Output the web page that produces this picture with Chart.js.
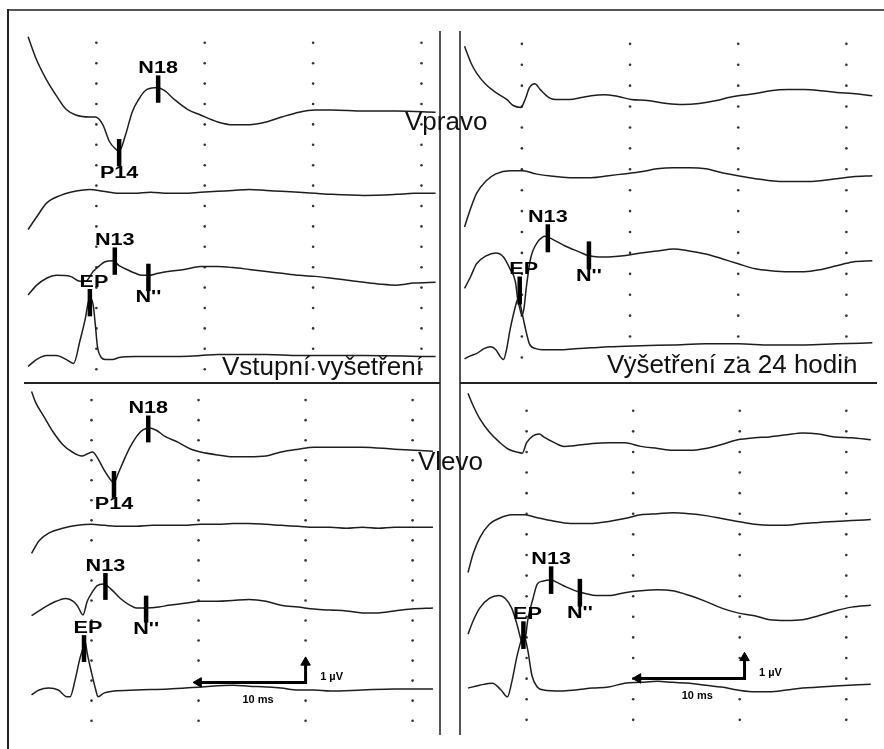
<!DOCTYPE html>
<html>
<head>
<meta charset="utf-8">
<script src="https://cdn.jsdelivr.net/npm/chart.js@4.4.0/dist/chart.umd.min.js"></script>
<style>
  body { margin: 0; background: #fff; }
  #page { position: relative; width: 884px; height: 749px; overflow: hidden; font-family: "Liberation Sans", Arial, sans-serif; }
  .panel { position: absolute; }
  .rule { position: absolute; background: #333; }
  .title { position: absolute; font-size: 26px; line-height: 26px; color: #111; white-space: nowrap; }
</style>
</head>
<body>
<div id="page">
  <div class="panel" style="left:24px;top:30px"><canvas id="tl" width="416" height="353"></canvas></div>
  <div class="panel" style="left:24px;top:383px"><canvas id="bl" width="416" height="352"></canvas></div>
  <div class="panel" style="left:460px;top:30px"><canvas id="tr" width="417" height="353"></canvas></div>
  <div class="panel" style="left:460px;top:383px"><canvas id="br" width="417" height="352"></canvas></div>

  <div class="rule" style="left:8px;top:9px;width:876px;height:2px;background:#555"></div>
  <div class="rule" style="left:7px;top:9px;width:2px;height:740px;background:#222"></div>
  <div class="rule" style="left:439px;top:31px;width:2px;height:704px;background:#555"></div>
  <div class="rule" style="left:459px;top:31px;width:2px;height:704px;background:#555"></div>
  <div class="rule" style="left:24px;top:382px;width:416px;height:2px;background:#222"></div>
  <div class="rule" style="left:460px;top:382px;width:417px;height:2px;background:#222"></div>

  <div class="title" style="left:405px;top:108px">Vpravo</div>
  <div class="title" style="left:418px;top:448px">Vlevo</div>
  <div class="title" style="left:222px;top:353px">Vstupní vyšetření</div>
  <div class="title" style="left:607px;top:351px">Vyšetření za 24 hodin</div>
</div>
<script>
// time in ms, amplitude in µV (relative to each trace baseline)
// --- Vstupni vysetreni, vpravo (top left)
const tlTime1 = [3.7,4.5,5.4,6.3,7.2,8.1,9.4,9.9,10.6,11.2,11.8,12.1,12.7,13.3,13.9,14.5,15.4,15.7,16.3,17.2,18.4,19.6,21.2,22.6,24.1,25.7,27.1,28.7,30.2,31.7,34.7,37.7,41.3];
const tlAmp1 = [3.69,2.54,1.58,0.81,0.14,-0.14,-0.24,-0.24,-0.62,-1.44,-1.82,-1.92,-1.10,0,0.62,1.05,1.20,1.20,1.05,0.62,0.14,-0.14,-0.48,-0.62,-0.62,-0.48,-0.24,0,0.10,0.10,0.05,0.05,0];
const tlTime2 = [3.7,4.5,5.4,6.7,7.6,9.4,10.6,12.1,13.5,15.0,16.6,18.1,19.6,21.2,22.6,24.1,25.7,27.1,28.7,30.2,31.7,34.7,37.7,39.3,41.3];
const tlAmp2 = [-1.77,-1.15,-0.48,-0.10,0.05,0.19,0.10,0,0,0.05,0,0,0.05,0.10,0.14,0.19,0.14,0.10,0.05,0,-0.05,-0.10,-0.05,0,0];
const tlTime3 = [3.7,4.5,5.4,6.3,7.6,8.5,9.0,9.7,10.3,10.8,11.5,12.1,13.0,13.6,14.2,14.8,15.7,16.6,18.1,19.6,21.2,22.6,24.1,25.7,27.1,28.7,30.2,31.7,33.2,34.7,36.2,37.7,39.3,41.3];
const tlAmp3 = [-0.96,-0.48,-0.14,0,-0.05,-0.29,-0.29,0.19,0.48,0.67,0.72,0.48,0.24,0.10,0,0,0.10,0.19,0.29,0.43,0.43,0.38,0.29,0.19,0.10,0,-0.05,-0.14,-0.24,-0.34,-0.43,-0.48,-0.38,-0.34];
const tlTime4 = [3.7,4.5,5.4,6.3,7.2,7.9,8.5,9.0,9.2,9.4,9.7,9.9,10.1,10.4,10.8,11.5,12.1,13.6,16.6,19.6,21.2,25.7,28.7,34.7,41.3];
const tlAmp4 = [-0.48,-0.14,0.05,0.05,-0.14,-0.34,0.81,1.92,2.54,2.87,2.54,1.58,0.48,0,-0.14,-0.14,-0.05,0,0,0.05,0.10,0.10,0.05,0.05,0];

// --- Vstupni vysetreni, vlevo (bottom left)
const blTime1 = [4.4,4.8,5.5,6.4,7.3,8.2,9.1,9.6,10.1,10.5,11.2,11.8,12.1,12.5,13.0,13.6,14.2,14.8,15.4,16.0,16.9,18.1,19.3,20.2,21.8,23.2,24.7,26.3,27.7,29.3,30.8,32.3,35.3,38.3,41.9];
const blAmp1 = [2.88,2.31,1.68,0.87,0.24,-0.14,-0.34,-0.24,-0.14,-0.38,-1.06,-1.54,-1.68,-1.20,-0.58,0.10,0.63,0.96,1.06,0.96,0.63,0.34,0,-0.14,-0.29,-0.38,-0.38,-0.34,-0.14,0,0.10,0.10,0.10,0,-0.10];
const blTime2 = [4.4,5.1,6.0,7.3,8.7,10.0,11.2,12.7,14.2,15.7,17.2,18.7,20.2,21.8,23.2,24.7,26.3,27.7,29.3,30.8,32.3,33.8,35.3,36.8,38.3,41.9];
const blAmp2 = [-1.35,-0.72,-0.34,-0.10,0.05,0.10,0.05,0,0,0.05,0.05,0.05,0.10,0.10,0.14,0.14,0.10,0.05,0,-0.05,-0.05,-0.10,-0.05,-0.10,-0.05,-0.05];
const blTime3 = [4.4,5.5,6.7,7.6,8.3,8.7,9.2,9.6,10.1,10.5,11.1,11.8,12.7,13.6,14.2,15.1,16.3,17.2,18.7,20.2,21.8,23.2,24.7,26.3,27.7,29.3,30.8,32.3,33.8,35.3,36.8,38.3,39.9,41.9];
const blAmp3 = [-0.38,0,0.34,0.48,0.34,0.10,-0.34,0.34,0.82,1.11,1.20,0.96,0.48,0.14,0,0,0.05,0.14,0.24,0.34,0.34,0.38,0.43,0.34,0.14,0.05,-0.05,-0.10,-0.14,-0.24,-0.24,-0.14,-0.05,0];
const blTime4 = [4.4,5.1,6.0,6.9,7.7,8.0,8.5,8.9,9.2,9.4,9.6,10.0,10.4,10.6,11.2,12.1,14.2,17.2,20.2,23.2,24.7,26.3,27.7,29.3,30.8,32.3,35.3,38.3,41.9];
const blAmp4 = [-0.29,-0.05,0.05,-0.05,-0.38,-0.38,0.53,1.49,2.02,2.36,1.78,0.82,-0.05,-0.38,-0.19,-0.10,-0.05,0,0.10,0.19,0.14,0.10,0.05,-0.05,-0.05,-0.10,-0.05,0,0];

// --- Vysetreni za 24 hodin, vpravo (top right)
const trTime1 = [4.7,5.3,5.8,6.7,7.6,8.6,9.2,9.9,10.3,10.7,11.2,11.7,12.5,13.1,14.4,15.5,16.4,17.6,18.9,20.1,21.6,23.4,24.9,26.4,28.0,29.1,30.0,31.6,33.0,34.6,36.1,37.6,39.1,40.6,42.4];
const trAmp1 = [2.45,1.65,1.18,0.61,0.24,-0.09,-0.38,-0.47,-0.09,0.47,0.66,0.38,0,-0.09,-0.09,0,0.09,0.14,0.05,-0.09,-0.14,-0.28,-0.33,-0.28,-0.14,0,0.09,0.19,0.33,0.38,0.38,0.33,0.24,0.19,0.09];
const trTime2 = [4.7,5.3,5.8,6.7,7.6,8.9,10.1,11.3,12.5,14.4,16.4,18.0,19.4,21.0,22.5,24.0,25.5,27.0,28.5,30.0,31.6,33.0,34.6,36.1,37.6,39.1,40.6,42.4];
const trAmp2 = [-2.45,-1.51,-0.85,-0.24,0.09,0.24,0.24,0.09,0,-0.09,-0.09,0,0.09,0.19,0.33,0.38,0.38,0.33,0.14,0,-0.14,-0.24,-0.28,-0.28,-0.24,-0.14,-0.05,0];
const trTime3 = [4.7,5.3,5.8,6.7,7.6,8.3,8.9,9.4,9.6,9.8,10.0,10.2,10.4,10.8,11.5,11.9,12.1,12.8,14.0,15.3,16.2,17.1,18.0,19.4,21.0,22.5,24.0,25.5,27.0,28.5,30.0,31.6,33.0,34.6,36.1,37.6,39.1,40.6,42.4];
const trAmp3 = [-1.51,-0.90,-0.33,0.05,0.19,0,-0.57,-1.18,-1.98,-2.45,-2.78,-2.45,-1.51,-0.09,0.75,0.94,0.99,0.85,0.52,0.24,0.05,0,0,0.05,0.19,0.28,0.38,0.28,0.14,-0.09,-0.33,-0.57,-0.66,-0.71,-0.71,-0.61,-0.42,-0.24,-0.19];
const trTime4 = [4.7,5.3,5.8,6.5,7.1,7.6,8.0,8.3,8.6,8.9,9.2,9.5,9.6,9.8,10.1,10.4,10.7,11.3,11.9,13.5,14.9,16.4,18.0,21.0,24.0,27.0,30.0,33.0,36.1,39.1,42.4];
const trAmp4 = [-0.57,-0.42,-0.33,-0.09,0,-0.14,-0.47,-0.61,-0.09,0.80,1.51,2.12,2.26,2.12,1.42,0.71,0.14,-0.09,-0.14,-0.14,-0.09,-0.05,0,0.05,0.09,0.14,0.14,0.09,0.09,0.14,0.19];

// --- Vysetreni za 24 hodin, vlevo (bottom right)
const brTime1 = [4.5,5.0,5.6,6.5,7.4,8.3,9.1,9.6,10.0,10.6,11.2,11.6,12.6,13.5,14.6,16.2,17.7,19.2,20.7,22.3,23.7,25.3,26.8,28.3,29.8,31.4,32.8,34.4,35.9,37.4,38.9,40.5,42.3];
const brAmp1 = [2.48,1.87,1.26,0.61,0.14,-0.23,-0.37,-0.42,0.09,0.42,0.51,0.37,0.09,-0.09,-0.05,0.05,0.09,0.09,-0.09,-0.19,-0.28,-0.28,-0.19,0,0.23,0.33,0.37,0.47,0.56,0.51,0.37,0.33,0.23];
const brTime2 = [4.5,5.0,5.6,6.5,7.4,8.6,9.8,11.0,12.3,14.1,16.2,17.7,19.2,20.7,22.3,23.7,25.3,26.8,28.3,29.8,31.4,32.8,34.4,35.9,37.4,38.9,40.5,42.3];
const brAmp2 = [-2.57,-1.64,-0.89,-0.23,0.05,0.23,0.23,0.09,-0.05,-0.19,-0.19,-0.09,0.05,0.23,0.28,0.33,0.28,0.19,0.05,-0.09,-0.23,-0.28,-0.28,-0.19,-0.14,-0.09,-0.05,0];
const brTime3 = [4.5,5.0,5.6,6.5,7.4,8.0,8.6,9.1,9.4,9.6,9.9,10.1,10.6,11.0,11.5,12.3,12.8,13.7,14.6,15.6,16.5,17.7,19.2,20.7,22.3,23.7,25.3,26.8,28.3,29.8,31.4,32.8,34.4,35.9,37.4,38.9,40.5,42.3];
const brAmp3 = [-1.87,-1.21,-0.61,-0.14,0,-0.14,-0.61,-1.40,-2.01,-2.34,-2.01,-1.21,-0.14,0.56,0.70,0.75,0.65,0.42,0.23,0.09,0,0,0.14,0.23,0.28,0.23,0,-0.28,-0.61,-0.84,-0.98,-1.17,-1.21,-1.17,-0.98,-0.75,-0.56,-0.47];
const brTime4 = [4.5,5.6,6.8,7.6,8.2,8.6,9.1,9.5,9.7,10.1,10.5,11.0,11.6,13.2,14.6,16.2,17.7,19.2,20.7,22.3,23.7,25.3,26.8,28.3,29.8,31.4,32.8,34.4,35.9,38.9,42.3];
const brAmp4 = [-0.05,0.09,0.19,-0.14,-0.47,0.23,1.50,2.29,2.57,1.82,0.56,0,-0.14,-0.19,-0.14,-0.05,0,0.19,0.23,0.28,0.23,0.19,0.09,0,-0.14,-0.23,-0.23,-0.14,-0.05,0.05,0.14];

// peak markers: name, trace index, latency (ms), amplitude at marker centre (µV)
const tlMarkNames = ['N18', 'P14', 'N13', "N''", 'EP'];
const tlMarkTrace = [0, 0, 2, 2, 3];
const tlMarkMs = [15.7, 12.1, 11.7, 14.8, 9.4];
const tlMarkAmp = [1.13, -1.99, 0.70, -0.10, 2.64];
const blMarkNames = ['N18', 'P14', 'N13', "N''", 'EP'];
const blMarkTrace = [0, 0, 2, 2, 3];
const blMarkMs = [15.3, 12.1, 11.3, 15.1, 9.3];
const blMarkAmp = [1.01, -1.76, 1.08, -0.05, 2.02];
const trMarkNames = ['N13', "N''", 'EP'];
const trMarkTrace = [2, 2, 3];
const trMarkMs = [12.4, 16.2, 9.8];
const trMarkAmp = [0.89, 0.07, 2.69];
const brMarkNames = ['N13', "N''", 'EP'];
const brMarkTrace = [2, 2, 3];
const brMarkMs = [12.3, 15.0, 9.7];
const brMarkAmp = [0.75, 0.14, 2.52];

// dotted grid and calibration
const gridMs = [10, 20, 30, 40];
const scaleBarMs = 10;
const scaleBarUv = 1;
const scaleBarLabels = ['10 ms', '1 µV'];

const BAR = 0.67;      // half length of a marker bar, in µV
const LABEL_GAP = 1.0; // distance label - bar centre
const labelFont = 'bold 16px "Liberation Sans", Arial, sans-serif';
const smallFont = 'bold 10px "Liberation Sans", Arial, sans-serif';

const panels = [
  { id: 'tl', xMin: 3.69, xMax: 41.34, yMin: -16.48, yMax: 0.43, rows: 17,
    base: [-3.40, -7.38, -11.40, -15.38],
    traces: [[tlTime1, tlAmp1], [tlTime2, tlAmp2], [tlTime3, tlAmp3], [tlTime4, tlAmp4]],
    marks: { names: tlMarkNames, trace: tlMarkTrace, ms: tlMarkMs, amp: tlMarkAmp, side: [1, -1, 1, -1, 1] },
    bar: null },
  { id: 'bl', xMin: 4.30, xMax: 41.95, yMin: -16.39, yMax: 0.53, rows: 17,
    base: [-2.45, -6.30, -10.38, -14.42],
    traces: [[blTime1, blAmp1], [blTime2, blAmp2], [blTime3, blAmp3], [blTime4, blAmp4]],
    marks: { names: blMarkNames, trace: blMarkTrace, ms: blMarkMs, amp: blMarkAmp, side: [1, -1, 1, -1, 1] },
    bar: { ms: 20, u: -14.09 } },
  { id: 'tr', xMin: 4.65, xMax: 42.46, yMin: -16.03, yMax: 0.47, rows: 16,
    base: [-2.57, -6.31, -10.19, -14.49],
    traces: [[trTime1, trAmp1], [trTime2, trAmp2], [trTime3, trAmp3], [trTime4, trAmp4]],
    marks: { names: trMarkNames, trace: trMarkTrace, ms: trMarkMs, amp: trMarkAmp, side: [1, -1, 1] },
    bar: null },
  { id: 'br', xMin: 4.36, xMax: 42.27, yMin: -15.42, yMax: 1.03, rows: 16,
    base: [-1.64, -5.28, -8.97, -13.41],
    traces: [[brTime1, brAmp1], [brTime2, brAmp2], [brTime3, brAmp3], [brTime4, brAmp4]],
    marks: { names: brMarkNames, trace: brMarkTrace, ms: brMarkMs, amp: brMarkAmp, side: [1, -1, 1] },
    bar: { ms: 20.45, u: -12.99 } }
];

function stretched(ctx, text, x, y, font, sx) {
  ctx.save();
  ctx.translate(x, y);
  ctx.scale(sx, 1);
  ctx.font = font;
  ctx.fillStyle = '#000';
  ctx.textAlign = 'center';
  ctx.textBaseline = 'middle';
  ctx.fillText(text, 0, 0);
  ctx.restore();
}

function textPlugin(p) {
  return {
    id: 'epText',
    afterDatasetsDraw(chart) {
      const ctx = chart.ctx, xs = chart.scales.x, ys = chart.scales.y;
      p.marks.ms.forEach((ms, i) => {
        const name = p.marks.names[i];
        const c = p.base[p.marks.trace[i]] + p.marks.amp[i] + p.marks.side[i] * LABEL_GAP;
        const dx = name === 'EP' ? 4 : 0;
        stretched(ctx, name, xs.getPixelForValue(ms) + dx, ys.getPixelForValue(c), labelFont, 1.35);
      });
      if (p.bar) {
        const xl = xs.getPixelForValue(p.bar.ms);
        const xr = xs.getPixelForValue(p.bar.ms + scaleBarMs);
        const y0 = ys.getPixelForValue(p.bar.u);
        stretched(ctx, scaleBarLabels[0], (xl + xr) / 2 + 6, y0 + 18, smallFont, 1.1);
        stretched(ctx, scaleBarLabels[1], xr + 26, y0 - 5, smallFont, 1.1);
      }
    }
  };
}

function buildChart(p) {
  const ds = [];
  p.marks.ms.forEach((ms, i) => {
    const c = p.base[p.marks.trace[i]] + p.marks.amp[i];
    ds.push({ data: [{ x: ms, y: c - BAR }, { x: ms, y: c + BAR }], showLine: true,
      borderColor: '#000', borderWidth: 4.5, pointRadius: 0, order: 0, clip: false });
  });
  if (p.bar) {
    const x0 = p.bar.ms, y0 = p.bar.u;
    ds.push({ data: [{ x: x0, y: y0 }, { x: x0 + scaleBarMs, y: y0 }, { x: x0 + scaleBarMs, y: y0 + scaleBarUv }],
      showLine: true, borderColor: '#000', borderWidth: 3, pointStyle: 'triangle',
      rotation: [-90, 0, 0], pointRadius: [5.5, 0, 5.5], pointBackgroundColor: '#000',
      pointBorderColor: '#000', pointBorderWidth: 1, order: 0 });
  }
  p.traces.forEach((tr, k) => {
    ds.push({ data: tr[0].map((t, j) => ({ x: t, y: p.base[k] + tr[1][j] })), showLine: true,
      borderColor: '#1e1e1e', borderWidth: 1.5, pointRadius: 0,
      cubicInterpolationMode: 'monotone', order: 1, clip: false });
  });
  const dots = [];
  gridMs.forEach(m => { for (let r = 0; r < p.rows; r++) dots.push({ x: m, y: -r }); });
  ds.push({ data: dots, showLine: false, pointRadius: 1.3, pointBackgroundColor: '#333',
    pointBorderWidth: 0, order: 2 });

  new Chart(document.getElementById(p.id), {
    type: 'scatter',
    data: { datasets: ds },
    options: {
      responsive: false,
      animation: false,
      events: [],
      layout: { padding: 0 },
      plugins: { legend: { display: false }, tooltip: { enabled: false } },
      scales: {
        x: { type: 'linear', display: false, min: p.xMin, max: p.xMax },
        y: { type: 'linear', display: false, min: p.yMin, max: p.yMax }
      }
    },
    plugins: [textPlugin(p)]
  });
}

panels.forEach(buildChart);
</script>
</body>
</html>
